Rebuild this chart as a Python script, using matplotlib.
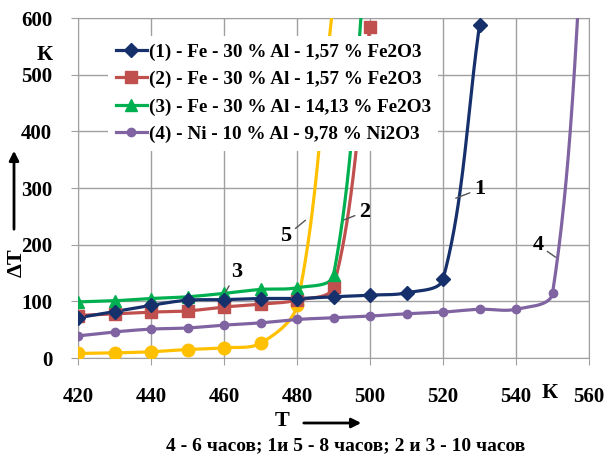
import numpy as np
import matplotlib
matplotlib.use("Agg")
import matplotlib.pyplot as plt

plt.rcParams['font.family'] = ['Liberation Serif', 'DejaVu Serif']
plt.rcParams['font.weight'] = 'bold'

# temperature, K
t1 = [420, 430, 440, 450, 460, 470, 480, 490, 500, 510, 520, 530]
dt1 = [71, 82, 93, 102, 103, 105, 105, 108, 111, 115, 139, 587]

t2 = [420, 430, 440, 450, 460, 470, 480, 490, 500]
dt2 = [75, 78, 81, 83, 90, 95, 102, 125, 585]

t3 = [420, 430, 440, 450, 460, 470, 480, 490, 500]
dt3 = [99, 101, 105, 108, 114, 121, 124, 146, 800]

t4 = [420, 430, 440, 450, 460, 470, 480, 490, 500, 510, 520, 530, 540, 550, 560]
dt4 = [39, 46, 51, 53, 58, 62, 68, 71, 74, 78, 81, 86, 86, 114, 920]

t5 = [420, 430, 440, 450, 460, 470, 480, 490]
dt5 = [8, 9, 11, 15, 18, 26, 93, 630]

labels = ["(1) - Fe - 30 % Al - 1,57 % Fe2O3",
          "(2) - Fe - 30 % Al - 1,57 % Fe2O3",
          "(3) - Fe - 30 % Al - 14,13 % Fe2O3",
          "(4) - Ni - 10 % Al - 9,78 % Ni2O3"]

# pixel per data unit, used so the smoothing works in screen space like Excel
KX = 511 / 140
KY = 340 / 600


def smooth(x, y, n=40):
    p = np.column_stack([np.asarray(x, float) * KX, np.asarray(y, float) * KY])
    m = len(p)
    out = []
    t = np.linspace(0, 1, n)[:, None]
    for i in range(m - 1):
        a, b = p[i], p[i + 1]
        d = np.linalg.norm(b - a)
        if i == 0:
            c1 = a + (b - a) / 3
        else:
            dp = np.linalg.norm(a - p[i - 1])
            c1 = a + (b - p[i - 1]) * d / (dp + d) / 3
        if i + 1 == m - 1:
            c2 = b - (b - a) / 3
        else:
            dn = np.linalg.norm(p[i + 2] - b)
            c2 = b - (p[i + 2] - a) * d / (d + dn) / 3
        seg = ((1 - t) ** 3) * a + 3 * ((1 - t) ** 2) * t * c1 \
            + 3 * (1 - t) * t ** 2 * c2 + t ** 3 * b
        out.append(seg)
    out = np.vstack(out)
    return out[:, 0] / KX, out[:, 1] / KY


fig = plt.figure(figsize=(6.06, 4.59), dpi=100)
ax = fig.add_axes([78 / 606, 1 - 358 / 459, 511 / 606, 340 / 459])

series = [
    (t5, dt5, '#FFC000', 'o', 9, None),
    (t4, dt4, '#8064A2', 'o', 6, labels[3]),
    (t2, dt2, '#C0504D', 's', 8, labels[1]),
    (t3, dt3, '#00B050', '^', 8, labels[2]),
    (t1, dt1, '#15306B', 'D', 7, labels[0]),
]
handles = {}
for x, y, c, m, ms, lab in series:
    sx, sy = smooth(x, y)
    ax.plot(sx, sy, color=c, lw=2.3, zorder=3)
    ax.plot(x, y, ls='none', marker=m, ms=ms, color=c, zorder=4)
    if lab:
        h, = ax.plot([], [], color=c, lw=2.3, marker=m, ms=ms)
        handles[lab] = h

ax.set_xlim(420, 560)
ax.set_ylim(0, 600)
ax.set_xticks(range(420, 561, 20))
ax.set_yticks(range(0, 601, 100))
ax.grid(True, color='#A0A0A0', lw=1)
ax.set_axisbelow(True)
for s in ax.spines.values():
    s.set_color('#A0A0A0')
ax.tick_params(colors='#A0A0A0', labelcolor='black', labelsize=15, length=5)
ax.tick_params(axis='x', pad=16)
ax.tick_params(axis='y', pad=13.5)
for lab in ax.get_xticklabels() + ax.get_yticklabels():
    lab.set_fontweight('bold')

leg = ax.legend([handles[l] for l in labels], labels, loc='upper left',
                bbox_to_anchor=(0.048, 0.965), fontsize=13.8, frameon=True,
                facecolor='white', edgecolor='none', framealpha=1,
                handlelength=1.6, handletextpad=0.1, labelspacing=0.52,
                borderpad=0.4, borderaxespad=0.3)
leg.set_zorder(10)
for txt in leg.get_texts():
    txt.set_fontweight('bold')

# curve numbers with leader lines
notes = [("1", (523.5, 282), (530, 298)),
         ("2", (493.0, 244), (498.5, 258)),
         ("3", (460.5, 117), (463.5, 152)),
         ("4", (550.8, 178), (546.0, 200)),
         ("5", (482.3, 243), (477.0, 215))]
for s, xy, xyt in notes:
    ax.annotate(s, xy=xy, xytext=xyt, fontsize=16, fontweight='bold',
                ha='center', va='center', zorder=11,
                arrowprops=dict(arrowstyle='-', color='#555555', lw=1,
                                shrinkA=1, shrinkB=0))


def fp(x, y):
    return (x / 606, 1 - y / 459)


fig.text(*fp(45, 55), "К", fontsize=16, fontweight='bold', ha='center', va='center')
fig.text(*fp(550, 393), "К", fontsize=16, fontweight='bold', ha='center', va='center')
fig.text(*fp(17, 263), "ΔT", fontsize=16, fontweight='bold', ha='center', va='center',
         rotation=90)
fig.text(*fp(282, 421), "T", fontsize=16, fontweight='bold', ha='center', va='center')
fig.text(*fp(346, 446), "4 - 6 часов; 1и 5 - 8 часов; 2 и 3 - 10 часов",
         fontsize=14, fontweight='bold', ha='center', va='center')

fig.add_artist(matplotlib.patches.FancyArrowPatch(
    fp(14, 232), fp(14, 148), transform=fig.transFigure, arrowstyle='-|>',
    mutation_scale=14, lw=2, color='black'))
fig.add_artist(matplotlib.patches.FancyArrowPatch(
    fp(301, 423), fp(364, 423), transform=fig.transFigure, arrowstyle='-|>',
    mutation_scale=14, lw=2, color='black'))

fig.savefig("out.png", dpi=100)
